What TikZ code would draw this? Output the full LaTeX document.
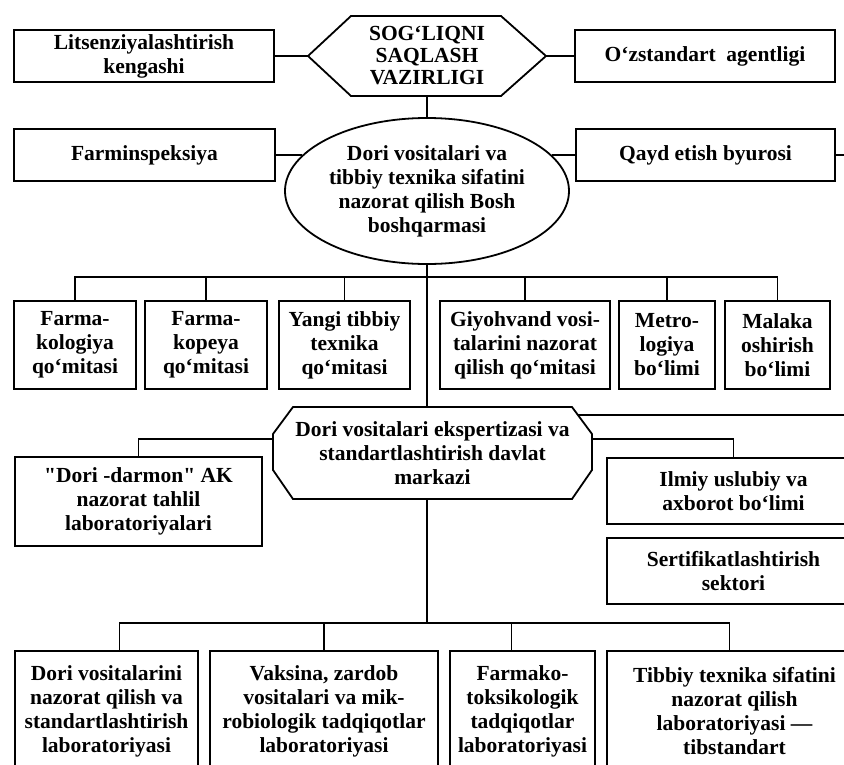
\documentclass[tikz,border=0pt]{standalone}
\usepackage{fontspec}
\setmainfont{Liberation Serif}[Ligatures=TeXOff]
\usetikzlibrary{calc,shapes.geometric}

\begin{document}
\begin{tikzpicture}[x=1pt,y=-1pt,
		con/.style={line width=1.8pt},
		txt/.style={font=\fontsize{21.5}{24}\selectfont\bfseries, align=center, inner sep=0pt},
		box/.style={txt, draw, con}]
		\useasboundingbox (0,0) rectangle (844,764);
		\clip (0,0) rectangle (844,764);
		% vazirlik
		\node[txt, font=\fontsize{21.5}{22}\selectfont\bfseries, minimum width=238pt, minimum height=80pt, outer sep=0pt] (min) at (427,56) {SOG‘LIQNI\\SAQLASH\\VAZIRLIGI};
		\draw[con] (min.west) -- ($(min.north west)+(43,0)$) -- ($(min.north east)+(-45,0)$) -- (min.east) -- ($(min.south east)+(-45,0)$) -- ($(min.south west)+(43,0)$) -- cycle;
		\node[box, minimum width=260pt, minimum height=52pt] (lic) at (144,56) {Litsenziyalashtirish\\kengashi};
		\node[box, minimum width=260pt, minimum height=52pt] (uzs) at (705,56) {O‘zstandart\ \ agentligi};
		% bosh boshqarma
		\node[txt, draw, con, ellipse, inner sep=-10pt, minimum width=284pt, minimum height=146pt] (bosh) at (427,191) {Dori vositalari va\\tibbiy texnika sifatini\\nazorat qilish Bosh\\boshqarmasi};
		\node[box, minimum width=261pt, minimum height=52pt] (farm) at (144.5,155) {Farminspeksiya};
		\node[box, minimum width=259pt, minimum height=52pt] (qayd) at (705.5,155) {Qayd etish byurosi};
		\coordinate (edgeB) at (850,155);
		% qo'mitalar
		\node[box, minimum width=122pt, minimum height=88pt] (k1) at (75,345) {Farma-\\kologiya\\qo‘mitasi};
		\node[box, minimum width=122pt, minimum height=88pt] (k2) at (206,345) {Farma-\\kopeya\\qo‘mitasi};
		\node[box, minimum width=131pt, minimum height=88pt] (k3) at (344.5,345) {Yangi tibbiy\\texnika\\qo‘mitasi};
		\node[box, minimum width=170pt, minimum height=88pt] (k4) at (525,345) {Giyohvand vosi-\\talarini nazorat\\qilish qo‘mitasi};
		\node[box, minimum width=96pt, minimum height=88pt] (k5) at (667,345) {Metro-\\logiya\\bo‘limi};
		\node[box, minimum width=105pt, minimum height=88pt] (k6) at (777.5,345) {Malaka\\oshirish\\bo‘limi};
		\coordinate (bus1) at (427,277);
		% markaz
		\node[txt, minimum width=319pt, minimum height=92pt, outer sep=0pt] (markaz) at (432.5,453) {Dori vositalari ekspertizasi va\\standartlashtirish davlat\\markazi};
		\draw[con] ($(markaz.north west)+(20,0)$) -- ($(markaz.north east)+(-20,0)$) -- ($(markaz.north east)+(0,27)$) -- ($(markaz.south east)+(0,-29)$) -- ($(markaz.south east)+(-20,0)$) -- ($(markaz.south west)+(20,0)$) -- ($(markaz.south west)+(0,-29)$) -- ($(markaz.north west)+(0,27)$) -- cycle;
		\node[box, minimum width=247pt, minimum height=89pt] (dd) at (138.5,501.5) {"Dori -darmon" AK\\nazorat tahlil\\laboratoriyalari};
		\node[box, minimum width=253pt, minimum height=66pt] (ilmiy) at (733.5,491) {Ilmiy uslubiy va\\axborot bo‘limi};
		\node[box, minimum width=253pt, minimum height=66pt] (sert) at (733.5,571) {Sertifikatlashtirish\\sektori};
		\coordinate (edgeA) at (850,415);
		% laboratoriyalar
		\node[box, minimum width=183pt, minimum height=121pt] (b1) at (106.5,711.5) {Dori vositalarini\\nazorat qilish va\\standartlashtirish\\laboratoriyasi};
		\node[box, minimum width=228pt, minimum height=121pt] (b2) at (324,711.5) {Vaksina, zardob\\vositalari va mik-\\robiologik tadqiqotlar\\laboratoriyasi};
		\node[box, minimum width=145pt, minimum height=121pt] (b3) at (522.5,711.5) {Farmako-\\toksikologik\\tadqiqotlar\\laboratoriyasi};
		\node[box, minimum width=255pt, minimum height=121pt] (b4) at (734.5,711.5) {Tibbiy texnika sifatini\\nazorat qilish\\laboratoriyasi —\\tibstandart};
		\coordinate (bus2) at (427,623);
		% connectors
		\draw[con] (lic.east) -- (min.west);
		\draw[con] (min.east) -- (uzs.west);
		\draw[con] (min.south) -- (bosh.north);
		\draw[con] (farm.east) -- (farm.east -| bosh.164);
		\draw[con] (qayd.west) -- (qayd.west -| bosh.16);
		\draw[con] (qayd.east) -- (edgeB);
		\draw[con] (bosh.south) -- (bosh.south |- markaz.north);
		\foreach \i in {1,...,6}
			\draw[con] (k\i.north) |- (bus1);
		\draw[con] ([yshift=14pt]markaz.west) -| (dd.north);
		\draw[con] ([yshift=14pt]markaz.east) -| (ilmiy.north);
		\draw[con] ($(markaz.north east)+(-14,8)$) -- (edgeA);
		\draw[con] (markaz.south -| bosh.south) -- (bus2);
		\draw[con] ([xshift=13pt]b1.north) |- (bus2);
		\draw[con] (b2.north) |- (bus2);
		\draw[con] ([xshift=-11pt]b3.north) |- (bus2);
		\draw[con] ([xshift=-5pt]b4.north) |- (bus2);
	\end{tikzpicture}
\end{document}
